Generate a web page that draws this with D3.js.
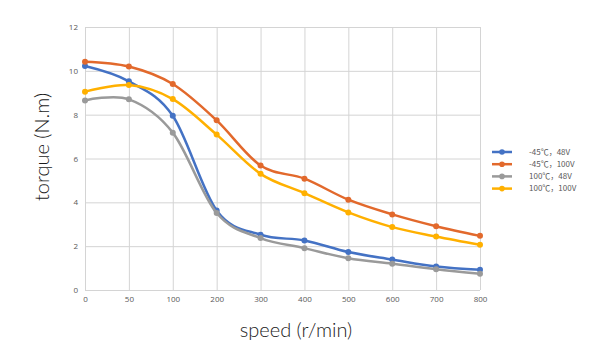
<!DOCTYPE html>
<html lang="en">
<head>
    <meta charset="UTF-8">
    <title>Torque vs speed</title>
    <style>
        body { margin: 0; background: #fff; }
        text { font-family: "Open Sans", "Noto Sans CJK SC", sans-serif; }
        .tick text { font-size: 8px; fill: #595959; }
        .tick line { stroke: #d4d4d4; }
        .domain { display: none; }
        .axis-label { font-size: 20px; fill: #1a1a1a; font-weight: 300; font-family: Lato, "Open Sans", sans-serif; }
        .legend text { font-size: 8px; fill: #595959; font-family: "Noto Sans CJK SC", sans-serif; }
    </style>
</head>
<body>
    <svg width="608" height="354"></svg>
    <script src="https://d3js.org/d3.v7.min.js"></script>
    <script>
        // Categories (speed r/min) - evenly spaced in the chart
        const speeds = ['0', '50', '100', '200', '300', '400', '500', '600', '700', '800'];

        const seriesNames = ['-45℃，48V', '-45℃，100V', '100℃，48V', '100℃，100V'];
        const seriesColors = ['#4472c4', '#e2692c', '#9a9a9a', '#ffb000'];

        const cold48 = [10.22, 9.52, 7.95, 3.63, 2.52, 2.26, 1.73, 1.39, 1.07, 0.92];
        const cold100 = [10.42, 10.2, 9.4, 7.74, 5.68, 5.08, 4.12, 3.45, 2.91, 2.47];
        const hot48 = [8.65, 8.7, 7.18, 3.51, 2.37, 1.91, 1.45, 1.2, 0.95, 0.74];
        const hot100 = [9.05, 9.35, 8.71, 7.09, 5.3, 4.42, 3.54, 2.87, 2.44, 2.06];

        const yTickValues = [0, 2, 4, 6, 8, 10, 12];

        const series = [cold48, cold100, hot48, hot100];

        const margin = { left: 85, top: 27, right: 128, bottom: 64 };
        const svg = d3.select('svg');
        const width = +svg.attr('width');
        const height = +svg.attr('height');
        const innerWidth = width - margin.left - margin.right;
        const innerHeight = height - margin.top - margin.bottom;

        const xScale = d3.scalePoint().domain(speeds).range([0, innerWidth]);
        const yScale = d3.scaleLinear().domain([0, 12]).range([innerHeight, 0]);

        const group = svg.append('g')
            .attr('transform', 'translate(' + margin.left + ' ' + margin.top + ')');

        // y gridlines + labels
        group.append('g')
            .call(d3.axisLeft(yScale).tickValues(yTickValues).tickSize(-innerWidth).tickPadding(7))
            .call(g => g.selectAll('.tick line').attr('stroke', '#d9d9d9'));

        // x gridlines + labels
        group.append('g')
            .attr('transform', 'translate(0 ' + innerHeight + ')')
            .call(d3.axisBottom(xScale).tickSize(-innerHeight).tickPadding(6))
            .call(g => g.selectAll('.tick line').attr('stroke', '#cfcfcf'));

        // axis labels
        svg.append('text')
            .attr('class', 'axis-label')
            .attr('transform', 'translate(49 147) rotate(-90)')
            .attr('text-anchor', 'middle')
            .text('torque (N.m)');

        svg.append('text')
            .attr('class', 'axis-label')
            .attr('x', 296)
            .attr('y', 337)
            .attr('text-anchor', 'middle')
            .text('speed (r/min)');

        const line = d3.line()
            .x((d, i) => xScale(speeds[i]))
            .y(d => yScale(d))
            .curve(d3.curveCardinal.tension(0));

        series.forEach(function (values, k) {
            const g = group.append('g');
            g.append('path')
                .datum(values)
                .attr('fill', 'none')
                .attr('stroke', seriesColors[k])
                .attr('stroke-width', 2.5)
                .attr('d', line);
            g.selectAll('circle')
                .data(values)
                .enter()
                .append('circle')
                .attr('cx', (d, i) => xScale(speeds[i]))
                .attr('cy', d => yScale(d))
                .attr('r', 3)
                .attr('fill', seriesColors[k]);
        });

        // legend
        const legend = svg.append('g')
            .attr('class', 'legend')
            .attr('transform', 'translate(492 152)');

        const items = legend.selectAll('g')
            .data(seriesNames)
            .enter()
            .append('g')
            .attr('transform', (d, i) => 'translate(0 ' + (i * 12.2) + ')');

        items.append('line')
            .attr('x1', 0).attr('x2', 20)
            .attr('stroke', (d, i) => seriesColors[i])
            .attr('stroke-width', 2.5);
        items.append('circle')
            .attr('cx', 10).attr('r', 2.8)
            .attr('fill', (d, i) => seriesColors[i]);
        items.append('text')
            .attr('x', 37)
            .attr('dy', '0.35em')
            .text(d => d);
    </script>
</body>
</html>
